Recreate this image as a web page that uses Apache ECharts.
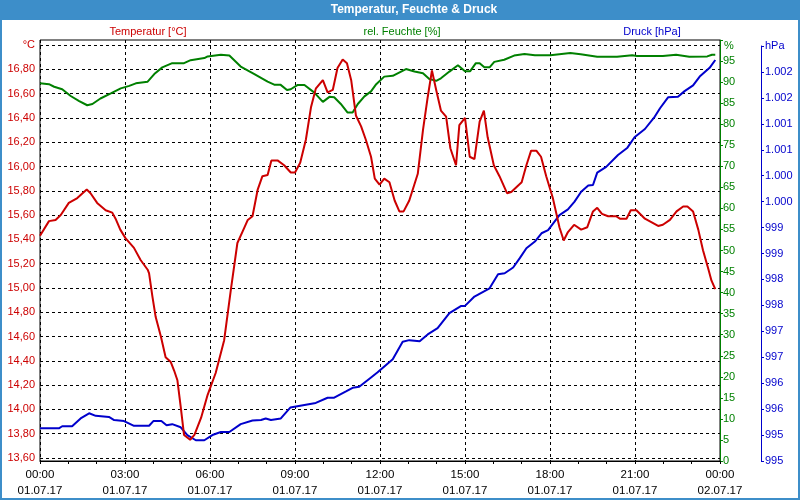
<!DOCTYPE html>
<html>
<head>
<meta charset="utf-8">
<script src="https://cdn.jsdelivr.net/npm/echarts@6/dist/echarts.min.js"></script>
<style>
html,body{margin:0;padding:0;background:#fff;}
#chart{width:800px;height:500px;}
</style>
</head>
<body>
<div id="chart"></div>
<script>
// ---- Data ----
const chartTitle = 'Temperatur, Feuchte & Druck';
const seriesNames = ['Temperatur [°C]', 'rel. Feuchte [%]', 'Druck [hPa]'];
const xTickHours = [0, 3, 6, 9, 12, 15, 18, 21, 24];

const tempTimes = ['00:00','00:19','00:33','00:44','01:01','01:19','01:39','01:47','02:01','02:19','02:33','02:40','02:50','03:01','03:19','03:33','03:48','03:51','03:58','04:05','04:16','04:26','04:37','04:44','04:51','04:58','05:05','05:18','05:27','05:41','05:55','06:12','06:30','06:44','06:58','07:12','07:20','07:30','07:41','07:51','08:02','08:10','08:23','08:37','08:51','09:00','09:11','09:23','09:34','09:44','09:59','10:09','10:20','10:30','10:41','10:50','10:59','11:09','11:20','11:30','11:41','11:49','11:59','12:09','12:20','12:31','12:41','12:50','13:02','13:20','13:31','13:41','13:50','13:59','14:09','14:20','14:29','14:41','14:48','15:00','15:10','15:20','15:31','15:40','15:48','16:01','16:13','16:29','16:38','17:00','17:10','17:20','17:31','17:41','17:52','18:06','18:20','18:29','18:38','18:51','19:06','19:19','19:31','19:40','19:50','20:03','20:20','20:28','20:42','20:51','21:03','21:21','21:49','21:59','22:14','22:28','22:42','22:51','23:03','23:14','23:24','23:35','23:42','23:50'];
const tempValues = [15.43,15.55,15.56,15.60,15.70,15.74,15.81,15.78,15.70,15.64,15.62,15.57,15.48,15.41,15.33,15.23,15.15,15.12,14.93,14.76,14.60,14.43,14.39,14.32,14.24,14.02,13.79,13.75,13.79,13.93,14.12,14.30,14.57,14.98,15.37,15.49,15.56,15.59,15.81,15.92,15.93,16.05,16.05,16.01,15.95,15.95,16.03,16.22,16.49,16.64,16.71,16.61,16.63,16.81,16.88,16.85,16.71,16.42,16.33,16.22,16.08,15.90,15.85,15.90,15.87,15.72,15.63,15.63,15.72,15.94,16.30,16.57,16.79,16.63,16.46,16.41,16.15,16.01,16.34,16.40,16.08,16.06,16.37,16.46,16.24,16.01,15.92,15.78,15.79,15.87,16.01,16.13,16.13,16.08,15.92,15.74,15.50,15.39,15.46,15.52,15.48,15.50,15.63,15.66,15.61,15.59,15.59,15.57,15.57,15.64,15.64,15.57,15.51,15.52,15.56,15.63,15.67,15.67,15.63,15.48,15.31,15.16,15.06,14.99];

const humTimes = ['00:00','00:19','00:30','00:47','01:05','01:23','01:40','01:51','02:08','02:30','02:51','03:09','03:23','03:48','04:02','04:19','04:40','05:05','05:19','05:48','05:55','06:23','06:41','07:05','07:34','08:02','08:16','08:29','08:43','08:51','09:05','09:20','09:41','09:59','10:13','10:23','10:37','10:51','11:02','11:13','11:27','11:41','11:52','12:09','12:27','12:55','13:13','13:31','13:45','13:59','14:09','14:27','14:45','15:00','15:11','15:23','15:31','15:41','15:52','16:02','16:23','16:44','17:06','17:28','18:01','18:43','19:05','19:40','20:22','20:54','21:04','21:59','22:27','22:55','23:33','23:43','23:50'];
const humValues = [89.7,89.5,88.9,88.3,86.7,85.5,84.5,84.8,86.1,87.3,88.5,89.1,89.7,90.1,91.9,93.5,94.5,94.5,95.2,95.7,96.1,96.5,96.3,93.7,91.9,90.1,89.4,89.4,88.1,88.3,89.3,89.3,87.5,85.3,86.5,86.4,84.8,82.8,82.8,84.8,86.6,87.8,89.5,91.3,91.5,93.1,92.5,92.1,90.7,90.3,90.9,92.5,94.0,92.6,92.6,94.5,94.5,93.5,93.5,94.8,95.3,96.3,96.7,96.4,96.4,96.9,96.6,96.0,96.0,96.4,96.2,96.2,96.5,96.0,96.1,96.5,96.5];

const presTimes = ['00:00','00:40','00:47','01:08','01:26','01:44','01:58','02:26','02:37','02:58','03:18','03:51','04:00','04:17','04:28','04:40','04:58','05:12','05:30','05:48','06:05','06:23','06:41','07:05','07:30','07:48','07:58','08:09','08:30','08:50','09:20','09:44','10:09','10:23','10:48','11:02','11:16','11:41','11:55','12:27','12:48','13:02','13:24','13:41','14:02','14:27','14:52','15:00','15:20','15:52','16:10','16:24','16:42','16:56','17:10','17:28','17:42','17:56','18:20','18:38','18:52','19:06','19:21','19:31','19:40','19:59','20:24','20:44','20:59','21:21','21:42','21:53','22:10','22:31','22:45','23:03','23:17','23:38','23:50'];
const presValues = [995.63,995.63,995.67,995.67,995.82,995.92,995.87,995.85,995.79,995.77,995.68,995.68,995.77,995.77,995.69,995.71,995.65,995.50,995.40,995.40,995.50,995.56,995.56,995.71,995.78,995.79,995.82,995.79,995.82,996.03,996.08,996.12,996.22,996.22,996.34,996.41,996.43,996.61,996.71,996.96,997.30,997.33,997.31,997.44,997.56,997.85,997.99,997.99,998.17,998.33,998.60,998.62,998.73,998.91,999.10,999.23,999.39,999.45,999.74,999.85,1000.00,1000.19,1000.31,1000.32,1000.56,1000.67,1000.90,1001.04,1001.24,1001.40,1001.64,1001.80,1002.01,1002.02,1002.13,1002.24,1002.41,1002.58,1002.73];

// ---- Helpers ----
function toHours(s){ const p = s.split(':'); return (+p[0]) + (+p[1]) / 60; }
function pairs(times, vals){ return times.map((t, i) => [toHours(t), vals[i]]); }

const FONT = 'Liberation Sans, Arial, sans-serif';
const RED = '#cc0000', GREEN = '#008000', BLUE = '#0000cc', FRAME = '#3d8ec9';

const chart = echarts.init(document.getElementById('chart'), null, {renderer: 'canvas'});

const xLabel = v => {
  const h = v % 24;
  const hh = (h < 10 ? '0' : '') + h + ':00';
  return hh + '\n' + (v >= 24 ? '02.07.17' : '01.07.17');
};

const option = {
  animation: false,
  backgroundColor: '#fff',
  textStyle: {fontFamily: FONT},
  grid: [
    {left: 40, right: 80, top: 40, bottom: 39, show: true, borderColor: '#000', borderWidth: 1, backgroundColor: 'transparent'},
    {left: 40, right: 80, top: 45, bottom: 42},
    {left: 40, right: 80, top: 46, bottom: 39}
  ],
  xAxis: [
    {gridIndex: 0, type: 'value', min: xTickHours[0], max: xTickHours[xTickHours.length - 1], interval: 3,
     axisLine: {show: true, onZero: false, lineStyle: {color: '#000', width: 1}},
     axisTick: {show: true, length: 3, lineStyle: {color: '#000'}},
     minorTick: {show: true, splitNumber: 3, length: 3, lineStyle: {color: '#000'}},
     axisLabel: {formatter: xLabel, color: '#000', fontSize: 11.5, fontFamily: FONT, lineHeight: 16, margin: 6},
     splitLine: {show: true, lineStyle: {type: [3, 3], color: '#000', width: 1}}},
    {gridIndex: 1, type: 'value', min: 0, max: 24, show: false},
    {gridIndex: 2, type: 'value', min: 0, max: 24, show: false}
  ],
  yAxis: [
    {gridIndex: 1, type: 'value', min: 13.6, max: 17.0, interval: 0.2, position: 'left',
     axisLine: {show: false, onZero: false}, axisTick: {show: false},
     axisLabel: {color: RED, fontSize: 11, fontFamily: FONT, margin: 5,
       formatter: v => (Math.abs(v - 17) < 1e-6 ? '°C' : v.toFixed(2).replace('.', ','))},
     splitLine: {show: true, lineStyle: {type: [3, 3], color: '#000', width: 1}}},
    {gridIndex: 0, type: 'value', min: 0, max: 100, interval: 5, position: 'right',
     axisLine: {show: true, onZero: false, lineStyle: {color: GREEN, width: 1}},
     axisTick: {show: true, length: 3, lineStyle: {color: GREEN}},
     axisLabel: {color: GREEN, fontSize: 11, fontFamily: FONT, margin: 3,
       formatter: v => (v >= 100 ? '' : String(v))},
     splitLine: {show: false}},
    {gridIndex: 2, type: 'value', min: 995, max: 1003, interval: 0.5, position: 'right', offset: 41,
     axisLine: {show: true, onZero: false, lineStyle: {color: BLUE, width: 1}},
     axisTick: {show: true, length: 3, lineStyle: {color: BLUE}},
     axisLabel: {color: BLUE, fontSize: 11, fontFamily: FONT, margin: 4,
       formatter: v => {
         if (v >= 1003 - 1e-6) return 'hPa';
         const f = Math.floor(v + 1e-6);
         return f >= 1000 ? '1.' + String(f - 1000).padStart(3, '0') : String(f);
       }},
     splitLine: {show: false}}
  ],
  series: [
    {name: seriesNames[2], type: 'line', xAxisIndex: 2, yAxisIndex: 2, data: pairs(presTimes, presValues),
     symbol: 'none', lineStyle: {color: BLUE, width: 2}, itemStyle: {color: BLUE}},
    {name: seriesNames[1], type: 'line', xAxisIndex: 0, yAxisIndex: 1, data: pairs(humTimes, humValues),
     symbol: 'none', lineStyle: {color: GREEN, width: 2}, itemStyle: {color: GREEN}},
    {name: seriesNames[0], type: 'line', xAxisIndex: 1, yAxisIndex: 0, data: pairs(tempTimes, tempValues),
     symbol: 'none', lineStyle: {color: RED, width: 2}, itemStyle: {color: RED}}
  ],
  graphic: [
    {type: 'rect', shape: {x: 0, y: 0, width: 800, height: 20}, style: {fill: FRAME}, z: 0},
    {type: 'rect', shape: {x: 1, y: 1, width: 798, height: 498}, style: {fill: null, stroke: FRAME, lineWidth: 2}, z: 0},
    {type: 'text', x: 414, y: 10, style: {text: chartTitle, fill: '#fff', font: 'bold 12px ' + FONT, textAlign: 'center', textVerticalAlign: 'middle'}},
    {type: 'text', x: 148, y: 32, style: {text: seriesNames[0], fill: RED, font: '11px ' + FONT, textAlign: 'center', textVerticalAlign: 'middle'}},
    {type: 'text', x: 402, y: 32, style: {text: seriesNames[1], fill: GREEN, font: '11px ' + FONT, textAlign: 'center', textVerticalAlign: 'middle'}},
    {type: 'text', x: 652, y: 32, style: {text: seriesNames[2], fill: BLUE, font: '11px ' + FONT, textAlign: 'center', textVerticalAlign: 'middle'}},
    {type: 'text', x: 724, y: 46, style: {text: '%', fill: GREEN, font: '11px ' + FONT, textAlign: 'left', textVerticalAlign: 'middle'}}
  ]
};
chart.setOption(option);
</script>
</body>
</html>
